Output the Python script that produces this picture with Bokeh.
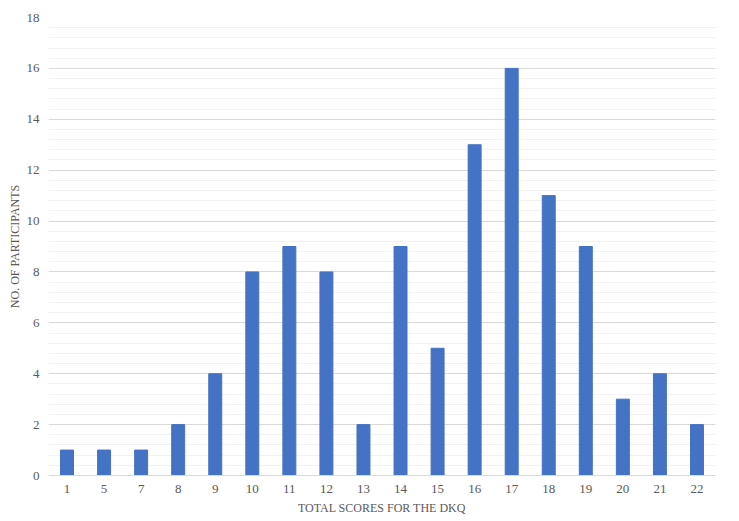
from bokeh.plotting import figure
from bokeh.models import ColumnDataSource, SingleIntervalTicker, FactorRange, Range1d
from bokeh.embed import file_html
from bokeh.resources import INLINE

scores = ["1", "5", "7", "8", "9", "10", "11", "12", "13", "14", "15", "16", "17", "18", "19", "20", "21", "22"]
participants = [1, 1, 1, 2, 4, 8, 9, 8, 2, 9, 5, 13, 16, 11, 9, 3, 4, 2]

src = ColumnDataSource(dict(x=scores, y=participants))

p = figure(frame_width=667, frame_height=458, x_range=FactorRange(*scores, range_padding=0),
           y_range=Range1d(0, 18), output_backend="svg", toolbar_location=None,
           min_border_left=48, min_border_right=16, min_border_top=17, min_border_bottom=40)
p.outline_line_color = None
p.vbar(x="x", top="y", width=0.35, source=src, color="#4472C4")

font = "Liberation Serif"
p.yaxis.ticker = SingleIntervalTicker(interval=2, num_minor_ticks=5)
p.yaxis.axis_line_color = None
p.yaxis.major_tick_line_color = None
p.yaxis.minor_tick_line_color = None
p.yaxis.major_label_text_font = font
p.yaxis.major_label_text_font_size = "13px"
p.yaxis.major_label_text_color = "#595959"
p.yaxis.major_label_standoff = 3
p.yaxis.axis_label = "NO. OF PARTICIPANTS"
p.yaxis.axis_label_text_font = font
p.yaxis.axis_label_text_font_style = "normal"
p.yaxis.axis_label_text_font_size = "12px"
p.yaxis.axis_label_text_color = "#595959"
p.yaxis.axis_label_standoff = 2

p.xaxis.axis_line_color = "#d9d9d9"
p.xaxis.major_tick_line_color = None
p.xaxis.minor_tick_line_color = None
p.xaxis.major_label_text_font = font
p.xaxis.major_label_text_font_size = "13px"
p.xaxis.major_label_text_color = "#595959"
p.xaxis.major_label_standoff = 3
p.xaxis.axis_label = "TOTAL SCORES FOR THE DKQ"
p.xaxis.axis_label_text_font = font
p.xaxis.axis_label_text_font_style = "normal"
p.xaxis.axis_label_text_font_size = "12px"
p.xaxis.axis_label_text_color = "#595959"
p.xaxis.axis_label_standoff = 5

p.xgrid.grid_line_color = None
p.ygrid.grid_line_color = "#d9d9d9"
p.ygrid.minor_grid_line_color = "#f2f2f2"
p.ygrid.level = "underlay"

open("out.html", "w").write(file_html(p, INLINE))
